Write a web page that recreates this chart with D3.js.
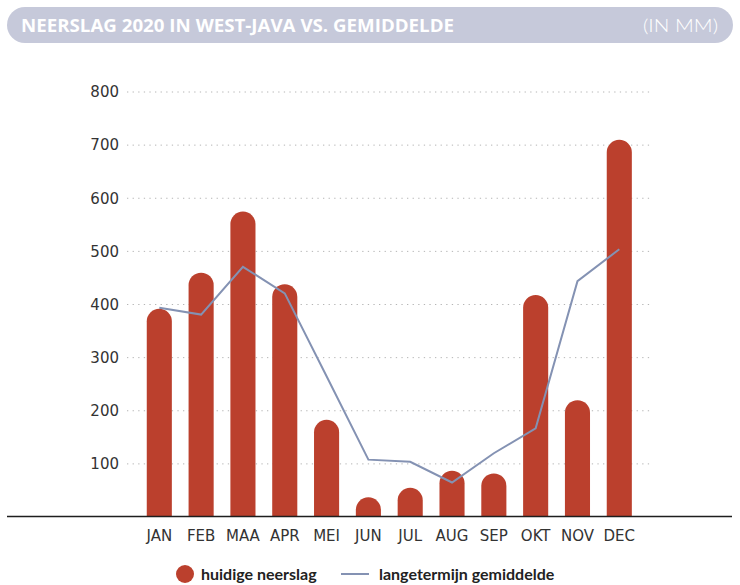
<!DOCTYPE html>
<html>
<head>
<meta charset="utf-8">
<script src="https://cdn.jsdelivr.net/npm/d3@7"></script>
<style>
  html, body { margin: 0; padding: 0; background: #fff; }
  svg { display: block; }
</style>
</head>
<body>
<svg id="chart" width="740" height="585"></svg>
<script>
// Monthly rainfall in West Java, 2020, against the long-term average (mm)
const months = ["JAN", "FEB", "MAA", "APR", "MEI", "JUN", "JUL", "AUG", "SEP", "OKT", "NOV", "DEC"];
const rainfall2020 = [392, 460, 575, 438, 183, 37, 55, 87, 82, 418, 220, 710];
const longTermAverage = [394, 381, 471, 421, 265, 108, 104, 65, 120, 167, 444, 504];
const yTicks = [100, 200, 300, 400, 500, 600, 700, 800];

const titleText = "NEERSLAG 2020 IN WEST-JAVA VS. GEMIDDELDE";
const unitText = "(IN MM)";
const legendBars = "huidige neerslag";
const legendLine = "langetermijn gemiddelde";

const barColor = "#bb402d";
const lineColor = "#8492b3";
const textColor = "#333";
const axisFont = "'DejaVu Sans', sans-serif";

const svg = d3.select("#chart");

// Header pill
svg.append("rect")
  .attr("x", 7).attr("y", 7).attr("width", 726).attr("height", 36)
  .attr("rx", 18).attr("ry", 18)
  .attr("fill", "#c6c9da");

svg.append("text")
  .attr("x", 21).attr("y", 32)
  .attr("fill", "#fff")
  .attr("font-family", "'Open Sans', sans-serif")
  .attr("font-weight", 700)
  .attr("font-size", 18)
  .attr("textLength", 433)
  .attr("lengthAdjust", "spacingAndGlyphs")
  .text(titleText);

svg.append("text")
  .attr("x", 643).attr("y", 31.5)
  .attr("fill", "#fff")
  .attr("font-family", "Lato, sans-serif")
  .attr("font-weight", 300)
  .attr("font-size", 18)
  .attr("textLength", 75)
  .attr("lengthAdjust", "spacingAndGlyphs")
  .text(unitText);

// Scales
const x = d3.scaleBand()
  .domain(months)
  .range([138.4, 640.2])
  .paddingInner(0.4)
  .paddingOuter(0.2);

const y = d3.scaleLinear()
  .domain([0, 800])
  .range([517, 92]);

// Dotted gridlines with labels
const grid = svg.append("g");
grid.selectAll("line")
  .data(yTicks)
  .join("line")
  .attr("x1", 127).attr("x2", 650)
  .attr("y1", d => y(d)).attr("y2", d => y(d))
  .attr("stroke", "#b5b5b5")
  .attr("stroke-width", 1)
  .attr("stroke-dasharray", "1.3,4.3");

const yAxis = d3.axisLeft(y).tickValues(yTicks).tickSize(0).tickPadding(0);
svg.append("g")
  .attr("transform", "translate(119,0)")
  .call(yAxis)
  .call(g => g.select(".domain").remove())
  .call(g => g.selectAll("text")
    .attr("fill", textColor)
    .attr("font-family", axisFont)
    .attr("font-size", 15)
    .attr("dy", "0.32em"));

// Bars with rounded caps
const bw = x.bandwidth();
const r = bw / 2;
function barPath(d, i) {
  const x0 = x(months[i]);
  const top = y(d);
  const bottom = y(0);
  const capTop = Math.min(top + r, bottom);
  return `M${x0},${bottom} L${x0},${capTop} A${r},${r} 0 0 1 ${x0 + bw},${capTop} L${x0 + bw},${bottom} Z`;
}
svg.append("g")
  .selectAll("path")
  .data(rainfall2020)
  .join("path")
  .attr("d", (d, i) => barPath(d, i))
  .attr("fill", barColor);

// Long-term average line
const line = d3.line()
  .x((d, i) => x(months[i]) + bw / 2)
  .y(d => y(d));
svg.append("path")
  .datum(longTermAverage)
  .attr("d", line)
  .attr("fill", "none")
  .attr("stroke", lineColor)
  .attr("stroke-width", 2);

// Baseline
svg.append("line")
  .attr("x1", 7).attr("x2", 732)
  .attr("y1", y(0) - 0.5).attr("y2", y(0) - 0.5)
  .attr("stroke", "#1e1e1e")
  .attr("stroke-width", 1.3);

// Month labels
const xAxis = d3.axisBottom(x).tickSize(0).tickPadding(0);
svg.append("g")
  .attr("transform", "translate(0,536)")
  .call(xAxis)
  .call(g => g.select(".domain").remove())
  .call(g => g.selectAll("text")
    .attr("fill", textColor)
    .attr("font-family", axisFont)
    .attr("font-size", 15)
    .attr("dy", "0.35em"));

// Legend
const legend = svg.append("g");
legend.append("circle")
  .attr("cx", 185).attr("cy", 574).attr("r", 9)
  .attr("fill", barColor);
legend.append("text")
  .attr("x", 201).attr("y", 579.5)
  .attr("fill", "#222")
  .attr("font-family", "Lato, sans-serif")
  .attr("font-weight", 700)
  .attr("font-size", 16)
  .text(legendBars);
legend.append("line")
  .attr("x1", 341).attr("x2", 369)
  .attr("y1", 574).attr("y2", 574)
  .attr("stroke", lineColor)
  .attr("stroke-width", 2);
legend.append("text")
  .attr("x", 379).attr("y", 579.5)
  .attr("fill", "#222")
  .attr("font-family", "Lato, sans-serif")
  .attr("font-weight", 700)
  .attr("font-size", 16)
  .text(legendLine);
</script>
</body>
</html>
